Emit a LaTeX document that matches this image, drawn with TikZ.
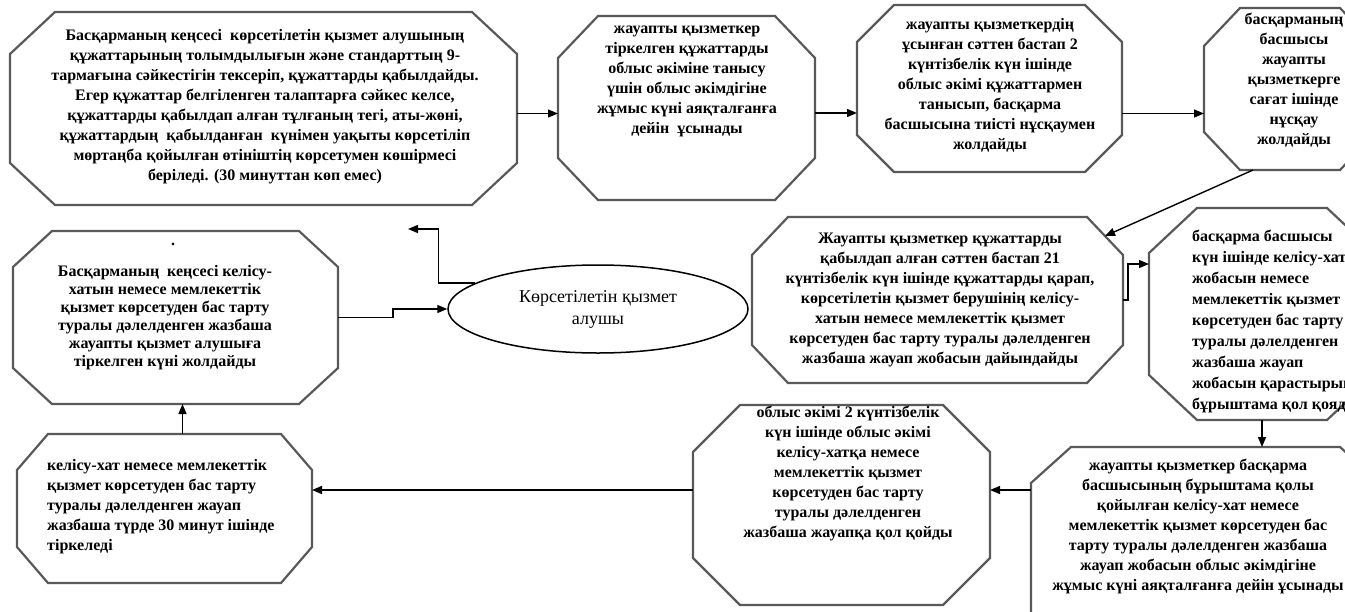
\documentclass[tikz,border=0pt]{standalone}
\usepackage{fontspec}
\setmainfont{Liberation Serif}
\usetikzlibrary{arrows.meta,shapes.geometric,calc}
\tikzset{
  boxarea/.style={draw=none,inner sep=0pt,outer sep=0pt,rectangle},
  octline/.style={draw=black!65,line width=2.2pt,line join=miter},
  txt/.style={inner sep=0pt,align=center,font=\fontsize{16}{20}\selectfont\bfseries},
  txtl/.style={inner sep=0pt,align=left,anchor=west,font=\fontsize{16}{20}\selectfont\bfseries},
  arr/.style={draw=black,line width=1.4pt,-{Triangle[length=10pt,width=8pt]}},
  conn/.style={draw=black,line width=1.4pt}
}
\newcommand\octo[3]{%
  \draw[octline] ([xshift=#2]#1.north west) -- ([xshift=-#2]#1.north east)
    -- ([yshift=-#3]#1.north east) -- ([yshift=#3]#1.south east)
    -- ([xshift=-#2]#1.south east) -- ([xshift=#2]#1.south west)
    -- ([yshift=#3]#1.south west) -- ([yshift=-#3]#1.north west) -- cycle;}
\begin{document}
\begin{tikzpicture}[x=1pt,y=-1pt]
\clip (0,0) rectangle (1345,611);
\fill[white] (0,0) rectangle (1345,611);
% box areas
\node[boxarea,minimum width=507pt,minimum height=193pt] (b1) at (263.5,108.5) {};
\node[boxarea,minimum width=257pt,minimum height=184pt] (b2) at (686.5,108) {};
\node[boxarea,minimum width=265pt,minimum height=167pt] (b3) at (989.5,88.5) {};
\node[boxarea,minimum width=172pt,minimum height=162pt] (b4) at (1290,89) {};
\node[boxarea,minimum width=371pt,minimum height=166pt] (b5) at (937.5,300) {};
\node[boxarea,minimum width=226pt,minimum height=212pt] (b6) at (1262,314) {};
\node[boxarea,minimum width=349pt,minimum height=203pt] (b7) at (1205.5,548.5) {};
\node[boxarea,minimum width=297pt,minimum height=200pt] (b8) at (841.5,505) {};
\node[boxarea,minimum width=295pt,minimum height=149pt] (b9) at (164.5,508.5) {};
\node[boxarea,minimum width=325pt,minimum height=173pt] (b10) at (175.5,317.5) {};
\octo{b1}{45pt}{42pt}
\octo{b2}{40pt}{42pt}
\octo{b3}{37pt}{37pt}
\octo{b4}{36pt}{38pt}
\octo{b5}{36pt}{38pt}
\octo{b6}{48pt}{45pt}
\octo{b7}{40pt}{36pt}
\octo{b8}{47pt}{47pt}
\octo{b9}{31pt}{36pt}
\octo{b10}{39pt}{36pt}
\node[draw=black,line width=1.5pt,ellipse,minimum width=300pt,minimum height=88pt,inner sep=0pt] (el) at (598,309) {};
% texts
\node[txt] (t1) at (265,107) {Басқарманың кеңсесі\ \ көрсетілетін қызмет алушының\\құжаттарының толымдылығын және стандарттың 9-\\тармағына сәйкестігін тексеріп, құжаттарды қабылдайды.\\Егер құжаттар белгіленген талаптарға сәйкес келсе,\\құжаттарды қабылдап алған тұлғаның тегі, аты-жөні,\\құжаттардың\ \ қабылданған\ \ күнімен уақыты көрсетіліп\\мөртаңба қойылған өтініштің көрсетумен көшірмесі\\беріледі. (30 минуттан көп емес)};
\node[txt] (t2) at (687,81) {жауапты қызметкер\\тіркелген құжаттарды\\облыс әкіміне танысу\\үшін облыс әкімдігіне\\жұмыс күні аяқталғанға\\дейін\ \ ұсынады};
\node[txt] (t3) at (990,85) {жауапты қызметкердің\\ұсынған сәттен бастап 2\\күнтізбелік күн ішінде\\облыс әкімі құжаттармен\\танысып, басқарма\\басшысына тиісті нұсқаумен\\жолдайды};
\node[txt] (t4) at (1294,80) {басқарманың\\басшысы\\жауапты\\қызметкерге\\сағат ішінде\\нұсқау\\жолдайды};
\node[txt] (t5) at (940,300) {Жауапты қызметкер құжаттарды\\қабылдап алған сәттен бастап 21\\күнтізбелік күн ішінде құжаттарды қарап,\\көрсетілетін қызмет берушінің келісу-\\хатын немесе мемлекеттік қызмет\\көрсетуден бас тарту туралы дәлелденген\\жазбаша жауап жобасын дайындайды};
\node[txtl,font=\fontsize{16}{21}\selectfont\bfseries] (t6) at (1192,321) {басқарма басшысы\\күн ішінде келісу-хат\\жобасын немесе\\мемлекеттік қызмет\\көрсетуден бас тарту\\туралы дәлелденген\\жазбаша жауап\\жобасын қарастырып\\бұрыштама қол қояды};
\node[txt] (t7) at (1198,526) {жауапты қызметкер басқарма\\басшысының бұрыштама қолы\\қойылған келісу-хат немесе\\мемлекеттік қызмет көрсетуден бас\\тарту туралы дәлелденген жазбаша\\жауап жобасын облыс әкімдігіне\\жұмыс күні аяқталғанға дейін ұсынады};
\node[txt] (t8) at (848,473) {облыс әкімі 2 күнтізбелік\\күн ішінде облыс әкімі\\келісу-хатқа немесе\\мемлекеттік қызмет\\көрсетуден бас тарту\\туралы дәлелденген\\жазбаша жауапқа қол қойды};
\node[txtl] (t9) at (47,507) {келісу-хат немесе мемлекеттік\\қызмет көрсетуден бас тарту\\туралы дәлелденген жауап\\жазбаша түрде 30 минут ішінде\\тіркеледі};
\node[txt] (t10dot) at (173,244) {.};
\node[txt,font=\fontsize{16}{18}\selectfont\bfseries] (t10) at (165,318) {Басқарманың\ \ кеңсесі келісу-\\хатын немесе мемлекеттік\\қызмет көрсетуден бас тарту\\туралы дәлелденген жазбаша\\жауапты қызмет алушыға\\тіркелген күні жолдайды};
\node[inner sep=0pt,align=center,font=\fontsize{18}{22}\selectfont] (tel) at (598,309) {Көрсетілетін қызмет\\алушы};
% connectors
\draw[arr] ([yshift=-5pt]b1.east) -- ([yshift=-5pt]b1.east -| b2.west);
\draw[arr] ([yshift=-5pt]b2.east) -- ([yshift=-5pt]b2.east -| b3.west);
\draw[arr] ([yshift=-25pt]b3.east) -- ([yshift=-25pt]b3.east -| b4.west);
\draw[arr] ([xshift=-37pt]b4.south) -- ([xshift=-18pt,yshift=-19pt]b5.north east);
\draw[arr] (b5.east) -- ++(5,0) |- ([yshift=50pt]b6.west);
\draw[arr] (b6.south) -- (b6.south |- b7.north);
\coordinate (a7) at ([yshift=15pt]b8.east);
\draw[arr] (b7.west |- a7) -- (a7);
\draw[arr] (b8.west |- a7) -- (b9.east |- a7);
\draw[arr] ([xshift=18pt]b9.north) -- ([xshift=18pt]b9.north |- b10.south);
\draw[arr] (b10.east) -- ++(55,0) |- (el.west);
\coordinate (free) at (408,229);
\draw[arr] (el.168) -- ++(-37,0) |- (free);
\end{tikzpicture}
\end{document}
